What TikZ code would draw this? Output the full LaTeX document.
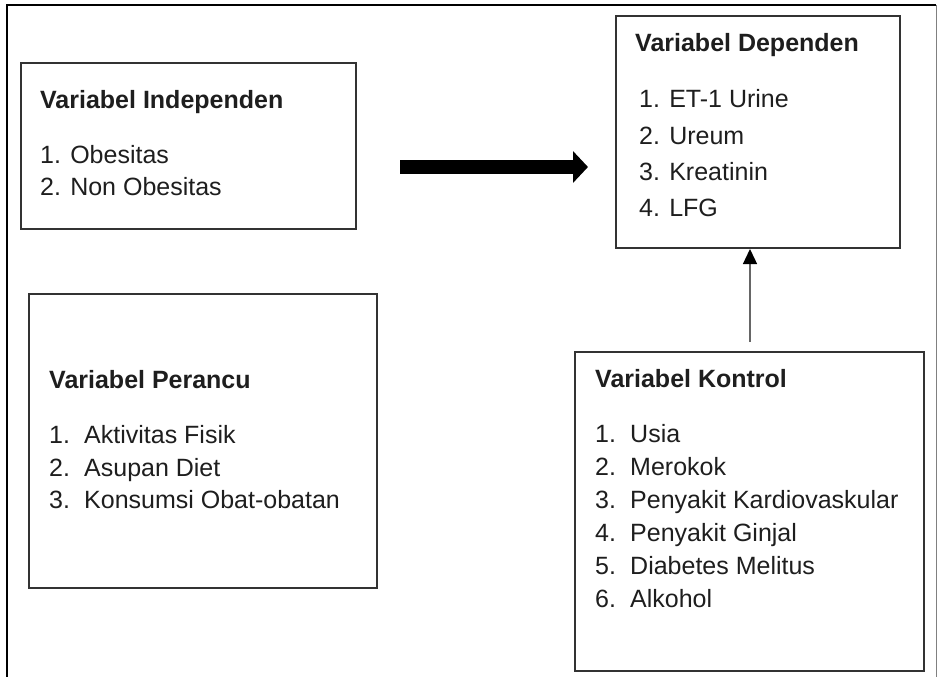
\documentclass[tikz,border=0pt]{standalone}
\usepackage{fontspec}
\setmainfont{Liberation Sans}
\usetikzlibrary{arrows.meta}
\definecolor{boxline}{HTML}{333333}
\definecolor{txt}{HTML}{1E1E1E}
\tikzset{
  box/.style={draw=boxline, line width=2pt, rectangle, anchor=north west, inner sep=0pt},
  ttl/.style={anchor=base west, inner sep=0pt, text=txt, font=\fontsize{25}{30}\selectfont\bfseries},
  itm/.style={anchor=base west, inner sep=0pt, text=txt, font=\fontsize{25}{30}\selectfont},
}
\begin{document}
\begin{tikzpicture}[x=1pt,y=-1pt]
\useasboundingbox (0,0) rectangle (938,677);
% outer frame
\draw[black, line width=2.5pt] (7,677) -- (7,5) -- (936,5);
\draw[gray, line width=1pt] (936,5) -- (936,677);

% boxes
\node[box, minimum width=335pt, minimum height=166pt] (ind) at (20,62) {};
\node[box, minimum width=284pt, minimum height=232pt] (dep) at (615,15) {};
\node[box, minimum width=348pt, minimum height=294pt] (per) at (28,293) {};
\node[box, minimum width=349pt, minimum height=319pt] (kon) at (574,351) {};

% independent
\node[ttl] (indt) at (40,109) {Variabel Independen};
\node[itm] (ind1) at (40,163) {1. Obesitas};
\node[itm] (ind2) at (40,195) {2. Non Obesitas};

% dependent
\node[ttl] (dept) at (635,52) {Variabel Dependen};
\node[itm] (dep1) at (639,108) {1. ET-1 Urine};
\node[itm] (dep2) at (639,144) {2. Ureum};
\node[itm] (dep3) at (639,180) {3. Kreatinin};
\node[itm] (dep4) at (639,216) {4. LFG};

% perancu
\node[ttl] (pert) at (49,388) {Variabel Perancu};
\node[itm] (pern1) at (49,443) {1.};
\node[itm] (per1) at (84,443) {Aktivitas Fisik};
\node[itm] (pern2) at (49,476) {2.};
\node[itm] (per2) at (84,476) {Asupan Diet};
\node[itm] (pern3) at (49,508) {3.};
\node[itm] (per3) at (84,508) {Konsumsi Obat-obatan};

% kontrol
\node[ttl] (kont) at (595,387) {Variabel Kontrol};
\node[itm] (konn1) at (595,442) {1.};
\node[itm] (kon1) at (630,442) {Usia};
\node[itm] (konn2) at (595,475) {2.};
\node[itm] (kon2) at (630,475) {Merokok};
\node[itm] (konn3) at (595,508) {3.};
\node[itm] (kon3) at (630,508) {Penyakit Kardiovaskular};
\node[itm] (konn4) at (595,541) {4.};
\node[itm] (kon4) at (630,541) {Penyakit Ginjal};
\node[itm] (konn5) at (595,574) {5.};
\node[itm] (kon5) at (630,574) {Diabetes Melitus};
\node[itm] (konn6) at (595,607) {6.};
\node[itm] (kon6) at (630,607) {Alkohol};

% thick arrow
\coordinate (ta) at (400,167);
\coordinate (tb) at (588,167);
\draw[black, line width=14pt, -{Triangle[length=15pt,width=31pt]}] (ta) -- (tb);

% thin arrow
\coordinate (ka) at (750,342);
\draw[draw=gray!80!black, line width=1.3pt, -{Triangle[length=15pt,width=14pt,fill=black,color=black]}] (ka) -- (ka |- dep.south);
\end{tikzpicture}
\end{document}
